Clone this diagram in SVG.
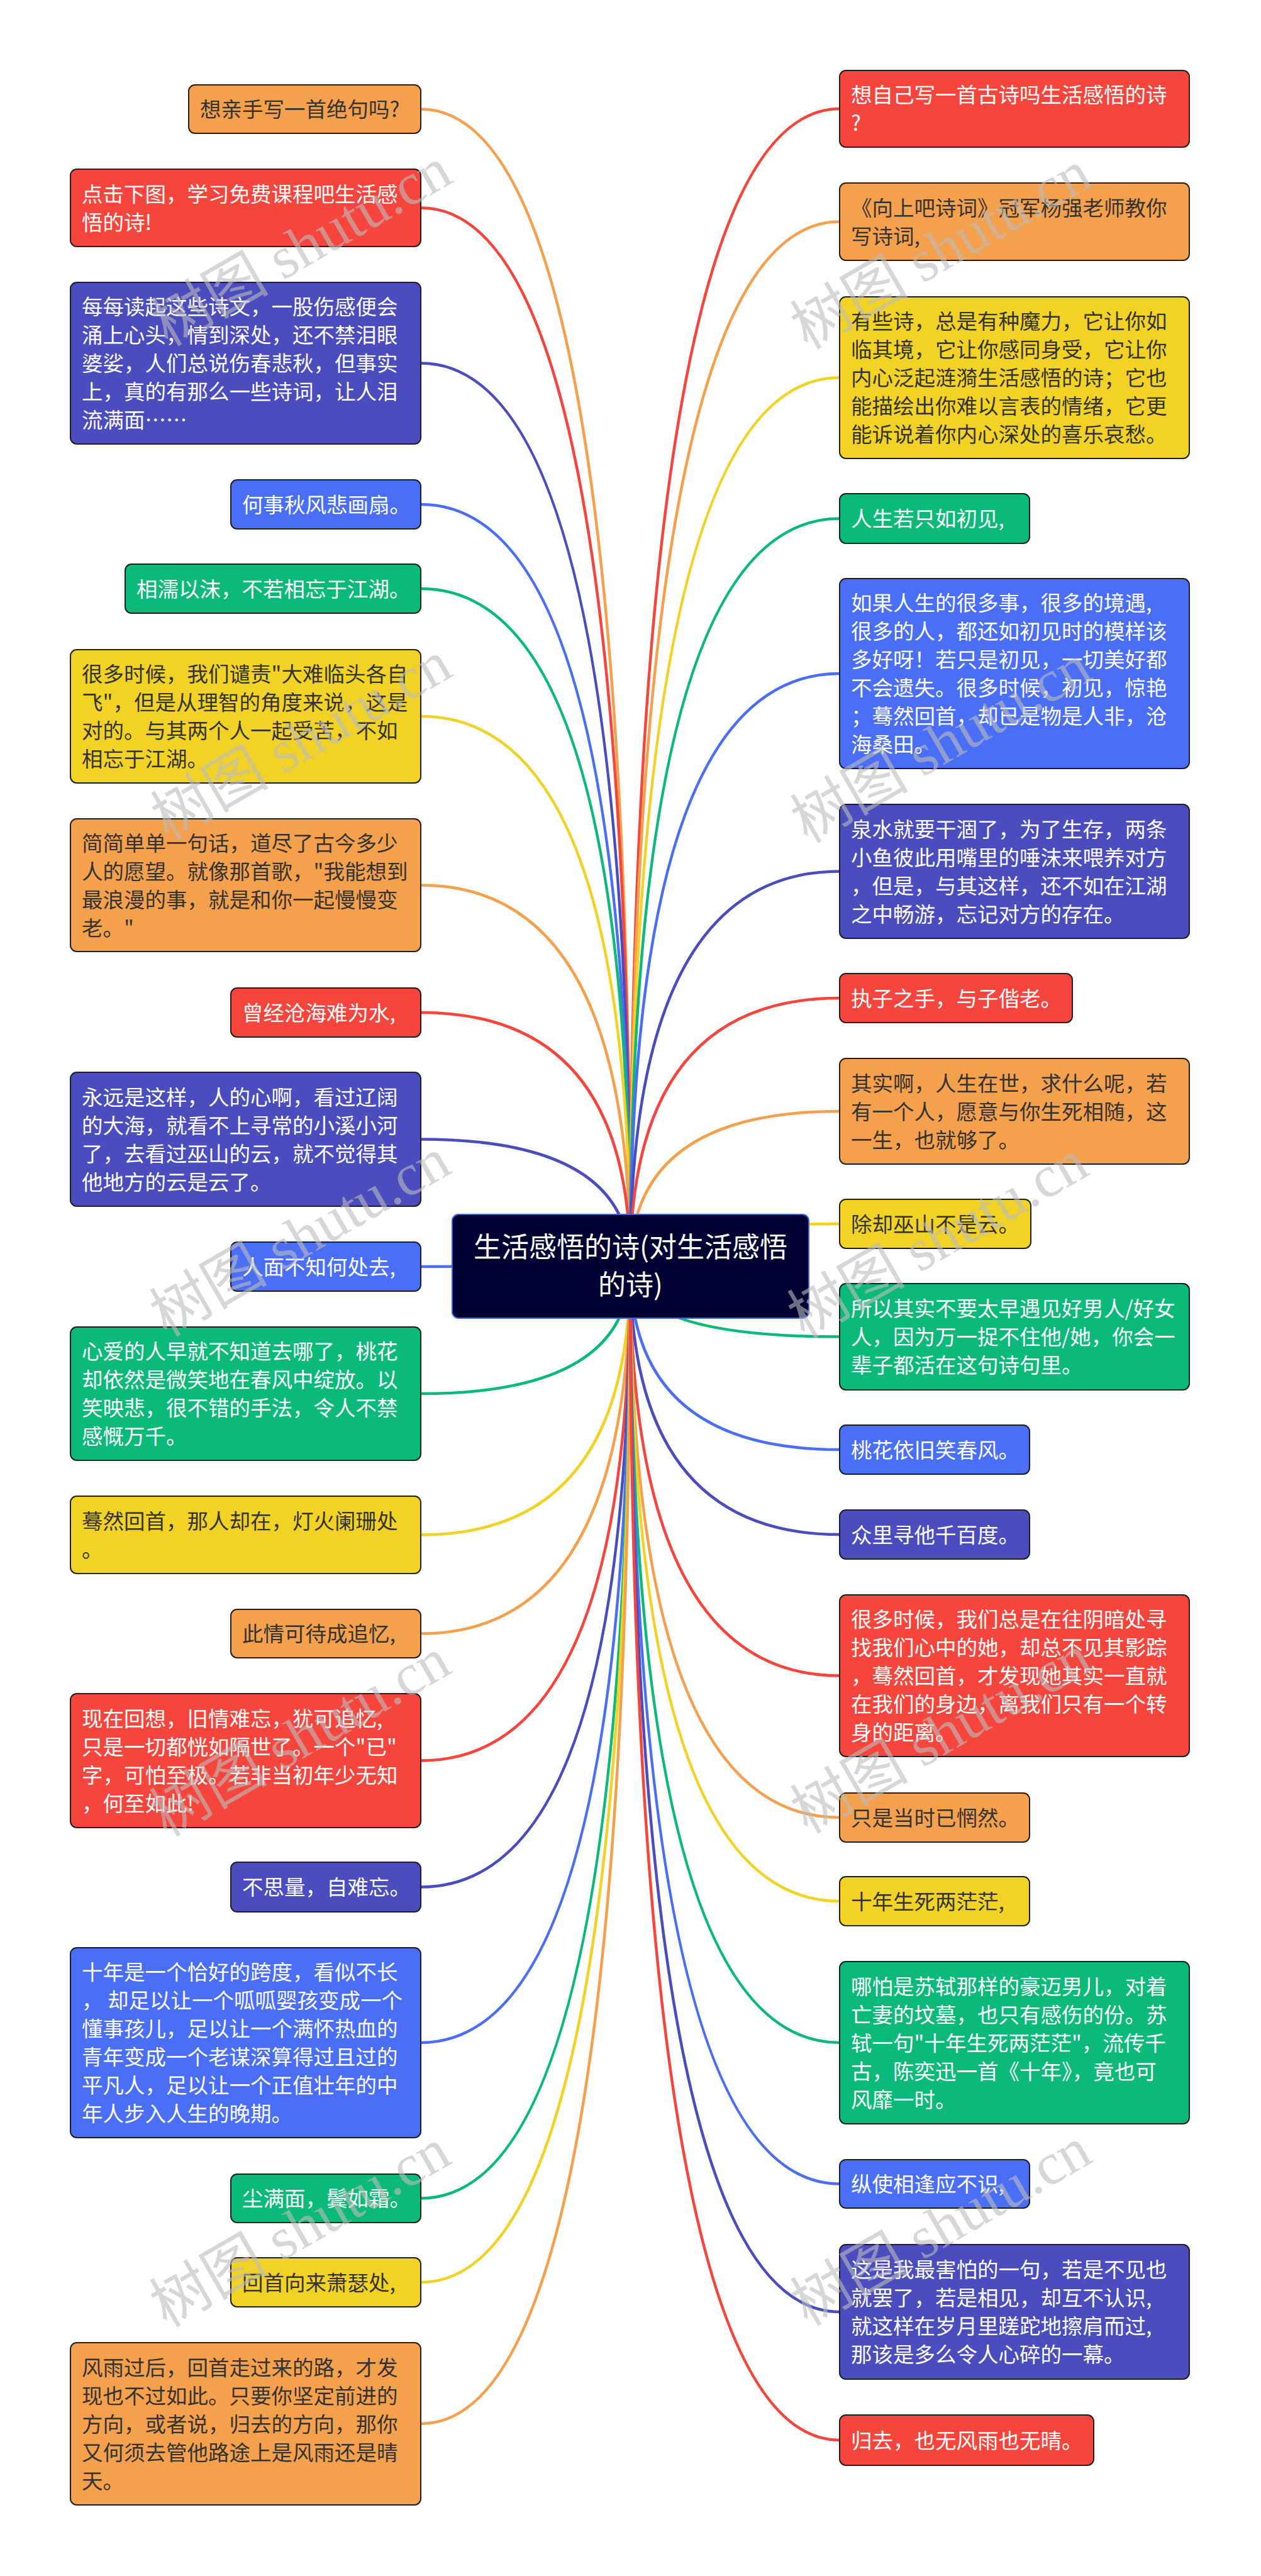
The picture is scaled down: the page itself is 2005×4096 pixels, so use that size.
<svg xmlns="http://www.w3.org/2000/svg" width="2005" height="4096" viewBox="0 0 2005 4096">
<style>
.n rect{stroke:#1e1e1e;stroke-width:2}
.t{font-family:"Noto Sans CJK SC","Noto Sans",sans-serif;font-size:33.5px}
.w{fill:#ffffff}.d{fill:#333333}
.o{fill:#F5A04C}.r{fill:#F6453D}.i{fill:#4B4CBE}.b{fill:#4A6EF6}.g{fill:#0BB97A}.y{fill:#F2D325}
#connectors path{fill:none;stroke-width:4.5}
.so{stroke:#F5A04C}.sr{stroke:#F6453D}.si{stroke:#4B4CBE}.sb{stroke:#4A6EF6}.sg{stroke:#0BB97A}.sy{stroke:#F2D325}
.wm{font-family:"Liberation Serif","Noto Sans CJK SC",serif;font-size:94px;fill:#bdbdbd;opacity:0.6}
</style>
<rect width="2005" height="4096" fill="#ffffff"/>
<g id="connectors">
<path class="so" d="M1002,2013.5 Q1002,173.5 669,173.5"/>
<path class="sr" d="M1002,2013.5 Q1002,330.5 669,330.5"/>
<path class="si" d="M1002,2013.5 Q1002,577.5 669,577.5"/>
<path class="sb" d="M1002,2013.5 Q1002,802 669,802"/>
<path class="sg" d="M1002,2013.5 Q1002,936 669,936"/>
<path class="sy" d="M1002,2013.5 Q1002,1139 669,1139"/>
<path class="so" d="M1002,2013.5 Q1002,1407.5 669,1407.5"/>
<path class="sr" d="M1002,2013.5 Q1002,1610 669,1610"/>
<path class="si" d="M1002,2013.5 Q1002,1811.5 669,1811.5"/>
<path class="sb" d="M1002,2013.5 Q1002,2014 669,2014"/>
<path class="sg" d="M1002,2013.5 Q1002,2216 669,2216"/>
<path class="sy" d="M1002,2013.5 Q1002,2440.5 669,2440.5"/>
<path class="so" d="M1002,2013.5 Q1002,2597.5 669,2597.5"/>
<path class="sr" d="M1002,2013.5 Q1002,2799.5 669,2799.5"/>
<path class="si" d="M1002,2013.5 Q1002,3000.5 669,3000.5"/>
<path class="sb" d="M1002,2013.5 Q1002,3248 669,3248"/>
<path class="sg" d="M1002,2013.5 Q1002,3495.5 669,3495.5"/>
<path class="sy" d="M1002,2013.5 Q1002,3629 669,3629"/>
<path class="so" d="M1002,2013.5 Q1002,3854 669,3854"/>
<path class="sr" d="M1002,2013.5 Q1002,173 1335,173"/>
<path class="so" d="M1002,2013.5 Q1002,352.5 1335,352.5"/>
<path class="sy" d="M1002,2013.5 Q1002,600.5 1335,600.5"/>
<path class="sg" d="M1002,2013.5 Q1002,824.5 1335,824.5"/>
<path class="sb" d="M1002,2013.5 Q1002,1071 1335,1071"/>
<path class="si" d="M1002,2013.5 Q1002,1385.5 1335,1385.5"/>
<path class="sr" d="M1002,2013.5 Q1002,1587 1335,1587"/>
<path class="so" d="M1002,2013.5 Q1002,1767 1335,1767"/>
<path class="sy" d="M1002,2013.5 Q1002,1946 1335,1946"/>
<path class="sg" d="M1002,2013.5 Q1002,2125.5 1335,2125.5"/>
<path class="sb" d="M1002,2013.5 Q1002,2305 1335,2305"/>
<path class="si" d="M1002,2013.5 Q1002,2440 1335,2440"/>
<path class="sr" d="M1002,2013.5 Q1002,2664.5 1335,2664.5"/>
<path class="so" d="M1002,2013.5 Q1002,2890 1335,2890"/>
<path class="sy" d="M1002,2013.5 Q1002,3023 1335,3023"/>
<path class="sg" d="M1002,2013.5 Q1002,3248 1335,3248"/>
<path class="sb" d="M1002,2013.5 Q1002,3472.5 1335,3472.5"/>
<path class="si" d="M1002,2013.5 Q1002,3676 1335,3676"/>
<path class="sr" d="M1002,2013.5 Q1002,3880 1335,3880"/>
</g>
<g id="L1" class="n"><rect class="o" x="300" y="135" width="369" height="77" rx="10"/><text class="t d" x="318" y="186">想亲手写一首绝句吗?</text></g>
<g id="L2" class="n"><rect class="r" x="112" y="269" width="557" height="123" rx="10"/><text class="t w" x="130"><tspan x="130" y="320.5">点击下图，学习免费课程吧生活感</tspan><tspan x="130" y="365.5">悟的诗!</tspan></text></g>
<g id="L3" class="n"><rect class="i" x="112" y="449" width="557" height="257" rx="10"/><text class="t w"><tspan x="130" y="500">每每读起这些诗文，一股伤感便会</tspan><tspan x="130" y="545">涌上心头，情到深处，还不禁泪眼</tspan><tspan x="130" y="590">婆娑，人们总说伤春悲秋，但事实</tspan><tspan x="130" y="635">上，真的有那么一些诗词，让人泪</tspan><tspan x="130" y="680">流满面……</tspan></text></g>
<g id="L4" class="n"><rect class="b" x="367" y="763" width="302" height="78" rx="10"/><text class="t w" x="385" y="814.5">何事秋风悲画扇。</text></g>
<g id="L5" class="n"><rect class="g" x="199" y="897" width="470" height="78" rx="10"/><text class="t w" x="217" y="948.5">相濡以沫，不若相忘于江湖。</text></g>
<g id="L6" class="n"><rect class="y" x="112" y="1033" width="557" height="212" rx="10"/><text class="t d"><tspan x="130" y="1084">很多时候，我们谴责"大难临头各自</tspan><tspan x="130" y="1129">飞"，但是从理智的角度来说，这是</tspan><tspan x="130" y="1174">对的。与其两个人一起受苦，不如</tspan><tspan x="130" y="1219">相忘于江湖。</tspan></text></g>
<g id="L7" class="n"><rect class="o" x="112" y="1302" width="557" height="211" rx="10"/><text class="t d"><tspan x="130" y="1352.5">简简单单一句话，道尽了古今多少</tspan><tspan x="130" y="1397.5">人的愿望。就像那首歌，"我能想到</tspan><tspan x="130" y="1442.5">最浪漫的事，就是和你一起慢慢变</tspan><tspan x="130" y="1487.5">老。"</tspan></text></g>
<g id="L8" class="n"><rect class="r" x="367" y="1571" width="302" height="78" rx="10"/><text class="t w" x="385" y="1622.5">曾经沧海难为水,</text></g>
<g id="L9" class="n"><rect class="i" x="112" y="1705" width="557" height="213" rx="10"/><text class="t w"><tspan x="130" y="1756.5">永远是这样，人的心啊，看过辽阔</tspan><tspan x="130" y="1801.5">的大海，就看不上寻常的小溪小河</tspan><tspan x="130" y="1846.5">了，去看过巫山的云，就不觉得其</tspan><tspan x="130" y="1891.5">他地方的云是云了。</tspan></text></g>
<g id="L10" class="n"><rect class="b" x="367" y="1975" width="302" height="78" rx="10"/><text class="t w" x="385" y="2026.5">人面不知何处去,</text></g>
<g id="L11" class="n"><rect class="g" x="112" y="2110" width="557" height="212" rx="10"/><text class="t w"><tspan x="130" y="2161">心爱的人早就不知道去哪了，桃花</tspan><tspan x="130" y="2206">却依然是微笑地在春风中绽放。以</tspan><tspan x="130" y="2251">笑映悲，很不错的手法，令人不禁</tspan><tspan x="130" y="2296">感慨万千。</tspan></text></g>
<g id="L12" class="n"><rect class="y" x="112" y="2379" width="557" height="123" rx="10"/><text class="t d"><tspan x="130" y="2430.5">蓦然回首，那人却在，灯火阑珊处</tspan><tspan x="130" y="2475.5">。</tspan></text></g>
<g id="L13" class="n"><rect class="o" x="367" y="2559" width="302" height="77" rx="10"/><text class="t d" x="385" y="2610">此情可待成追忆,</text></g>
<g id="L14" class="n"><rect class="r" x="112" y="2693" width="557" height="213" rx="10"/><text class="t w"><tspan x="130" y="2744.5">现在回想，旧情难忘，犹可追忆,</tspan><tspan x="130" y="2789.5">只是一切都恍如隔世了。一个"已"</tspan><tspan x="130" y="2834.5">字，可怕至极。若非当初年少无知</tspan><tspan x="130" y="2879.5">，何至如此!</tspan></text></g>
<g id="L15" class="n"><rect class="i" x="367" y="2961" width="302" height="79" rx="10"/><text class="t w" x="385" y="3013">不思量，自难忘。</text></g>
<g id="L16" class="n"><rect class="b" x="112" y="3097" width="557" height="302" rx="10"/><text class="t w"><tspan x="130" y="3148">十年是一个恰好的跨度，看似不长</tspan><tspan x="130" y="3193">， 却足以让一个呱呱婴孩变成一个</tspan><tspan x="130" y="3238">懂事孩儿，足以让一个满怀热血的</tspan><tspan x="130" y="3283">青年变成一个老谋深算得过且过的</tspan><tspan x="130" y="3328">平凡人，足以让一个正值壮年的中</tspan><tspan x="130" y="3373">年人步入人生的晚期。</tspan></text></g>
<g id="L17" class="n"><rect class="g" x="367" y="3457" width="302" height="77" rx="10"/><text class="t w" x="385" y="3508">尘满面，鬓如霜。</text></g>
<g id="L18" class="n"><rect class="y" x="367" y="3590" width="302" height="78" rx="10"/><text class="t d" x="385" y="3641.5">回首向来萧瑟处,</text></g>
<g id="L19" class="n"><rect class="o" x="112" y="3725" width="557" height="258" rx="10"/><text class="t d"><tspan x="130" y="3776.5">风雨过后，回首走过来的路，才发</tspan><tspan x="130" y="3821.5">现也不过如此。只要你坚定前进的</tspan><tspan x="130" y="3866.5">方向，或者说，归去的方向，那你</tspan><tspan x="130" y="3911.5">又何须去管他路途上是风雨还是晴</tspan><tspan x="130" y="3956.5">天。</tspan></text></g>
<g id="R1" class="n"><rect class="r" x="1335" y="112" width="556" height="122" rx="10"/><text class="t w"><tspan x="1353" y="163">想自己写一首古诗吗生活感悟的诗</tspan><tspan x="1353" y="208">?</tspan></text></g>
<g id="R2" class="n"><rect class="o" x="1335" y="291" width="556" height="123" rx="10"/><text class="t d"><tspan x="1353" y="342.5">《向上吧诗词》冠军杨强老师教你</tspan><tspan x="1353" y="387.5">写诗词,</tspan></text></g>
<g id="R3" class="n"><rect class="y" x="1335" y="472" width="556" height="257" rx="10"/><text class="t d"><tspan x="1353" y="523">有些诗，总是有种魔力，它让你如</tspan><tspan x="1353" y="568">临其境，它让你感同身受，它让你</tspan><tspan x="1353" y="613">内心泛起涟漪生活感悟的诗；它也</tspan><tspan x="1353" y="658">能描绘出你难以言表的情绪，它更</tspan><tspan x="1353" y="703">能诉说着你内心深处的喜乐哀愁。</tspan></text></g>
<g id="R4" class="n"><rect class="g" x="1335" y="785" width="302" height="79" rx="10"/><text class="t w" x="1353" y="837">人生若只如初见,</text></g>
<g id="R5" class="n"><rect class="b" x="1335" y="920" width="556" height="302" rx="10"/><text class="t w"><tspan x="1353" y="971">如果人生的很多事，很多的境遇,</tspan><tspan x="1353" y="1016">很多的人，都还如初见时的模样该</tspan><tspan x="1353" y="1061">多好呀！若只是初见，一切美好都</tspan><tspan x="1353" y="1106">不会遗失。很多时候，初见，惊艳</tspan><tspan x="1353" y="1151">；蓦然回首，却已是物是人非，沧</tspan><tspan x="1353" y="1196">海桑田。</tspan></text></g>
<g id="R6" class="n"><rect class="i" x="1335" y="1279" width="556" height="213" rx="10"/><text class="t w"><tspan x="1353" y="1330.5">泉水就要干涸了，为了生存，两条</tspan><tspan x="1353" y="1375.5">小鱼彼此用嘴里的唾沫来喂养对方</tspan><tspan x="1353" y="1420.5">，但是，与其这样，还不如在江湖</tspan><tspan x="1353" y="1465.5">之中畅游，忘记对方的存在。</tspan></text></g>
<g id="R7" class="n"><rect class="r" x="1335" y="1548" width="370" height="78" rx="10"/><text class="t w" x="1353" y="1599.5">执子之手，与子偕老。</text></g>
<g id="R8" class="n"><rect class="o" x="1335" y="1683" width="556" height="168" rx="10"/><text class="t d"><tspan x="1353" y="1734.5">其实啊，人生在世，求什么呢，若</tspan><tspan x="1353" y="1779.5">有一个人，愿意与你生死相随，这</tspan><tspan x="1353" y="1824.5">一生，也就够了。</tspan></text></g>
<g id="R9" class="n"><rect class="y" x="1335" y="1907" width="304" height="78" rx="10"/><text class="t d" x="1353" y="1958.5">除却巫山不是云。</text></g>
<g id="R10" class="n"><rect class="g" x="1335" y="2041" width="556" height="169" rx="10"/><text class="t w"><tspan x="1353" y="2093">所以其实不要太早遇见好男人/好女</tspan><tspan x="1353" y="2138">人，因为万一捉不住他/她，你会一</tspan><tspan x="1353" y="2183">辈子都活在这句诗句里。</tspan></text></g>
<g id="R11" class="n"><rect class="b" x="1335" y="2266" width="302" height="78" rx="10"/><text class="t w" x="1353" y="2317.5">桃花依旧笑春风。</text></g>
<g id="R12" class="n"><rect class="i" x="1335" y="2401" width="302" height="78" rx="10"/><text class="t w" x="1353" y="2452.5">众里寻他千百度。</text></g>
<g id="R13" class="n"><rect class="r" x="1335" y="2536" width="556" height="257" rx="10"/><text class="t w"><tspan x="1353" y="2587">很多时候，我们总是在往阴暗处寻</tspan><tspan x="1353" y="2632">找我们心中的她，却总不见其影踪</tspan><tspan x="1353" y="2677">，蓦然回首，才发现她其实一直就</tspan><tspan x="1353" y="2722">在我们的身边，离我们只有一个转</tspan><tspan x="1353" y="2767">身的距离。</tspan></text></g>
<g id="R14" class="n"><rect class="o" x="1335" y="2851" width="302" height="78" rx="10"/><text class="t d" x="1353" y="2902.5">只是当时已惘然。</text></g>
<g id="R15" class="n"><rect class="y" x="1335" y="2984" width="302" height="78" rx="10"/><text class="t d" x="1353" y="3035.5">十年生死两茫茫,</text></g>
<g id="R16" class="n"><rect class="g" x="1335" y="3119" width="556" height="258" rx="10"/><text class="t w"><tspan x="1353" y="3170.5">哪怕是苏轼那样的豪迈男儿，对着</tspan><tspan x="1353" y="3215.5">亡妻的坟墓，也只有感伤的份。苏</tspan><tspan x="1353" y="3260.5">轼一句"十年生死两茫茫"，流传千</tspan><tspan x="1353" y="3305.5">古，陈奕迅一首《十年》，竟也可</tspan><tspan x="1353" y="3350.5">风靡一时。</tspan></text></g>
<g id="R17" class="n"><rect class="b" x="1335" y="3434" width="302" height="77" rx="10"/><text class="t w" x="1353" y="3485">纵使相逢应不识,</text></g>
<g id="R18" class="n"><rect class="i" x="1335" y="3569" width="556" height="214" rx="10"/><text class="t w"><tspan x="1353" y="3621">这是我最害怕的一句，若是不见也</tspan><tspan x="1353" y="3666">就罢了，若是相见，却互不认识,</tspan><tspan x="1353" y="3711">就这样在岁月里蹉跎地擦肩而过,</tspan><tspan x="1353" y="3756">那该是多么令人心碎的一幕。</tspan></text></g>
<g id="R19" class="n"><rect class="r" x="1335" y="3840" width="404" height="80" rx="10"/><text class="t w" x="1353" y="3892.5">归去，也无风雨也无晴。</text></g>
<g id="center"><rect x="719" y="1931" width="567" height="165" rx="10" fill="#000033" stroke="#3F63D8" stroke-width="2"/><text font-family="Noto Sans CJK SC, Noto Sans, sans-serif" font-size="44" fill="#ffffff" text-anchor="middle"><tspan x="1002.5" y="1998.5">生活感悟的诗(对生活感悟</tspan><tspan x="1002.5" y="2058.5">的诗)</tspan></text></g>
<g id="watermark">
<text class="wm" text-anchor="middle" transform="translate(495,420) rotate(-30)">树图 shutu.cn</text>
<text class="wm" text-anchor="middle" transform="translate(1512,425) rotate(-30)">树图 shutu.cn</text>
<text class="wm" text-anchor="middle" transform="translate(495,1205) rotate(-30)">树图 shutu.cn</text>
<text class="wm" text-anchor="middle" transform="translate(1512,1210) rotate(-30)">树图 shutu.cn</text>
<text class="wm" text-anchor="middle" transform="translate(493,1995) rotate(-30)">树图 shutu.cn</text>
<text class="wm" text-anchor="middle" transform="translate(1507,1998) rotate(-30)">树图 shutu.cn</text>
<text class="wm" text-anchor="middle" transform="translate(493,2790) rotate(-30)">树图 shutu.cn</text>
<text class="wm" text-anchor="middle" transform="translate(1512,2785) rotate(-30)">树图 shutu.cn</text>
<text class="wm" text-anchor="middle" transform="translate(493,3570) rotate(-30)">树图 shutu.cn</text>
<text class="wm" text-anchor="middle" transform="translate(1512,3568) rotate(-30)">树图 shutu.cn</text>
</g>
</svg>
